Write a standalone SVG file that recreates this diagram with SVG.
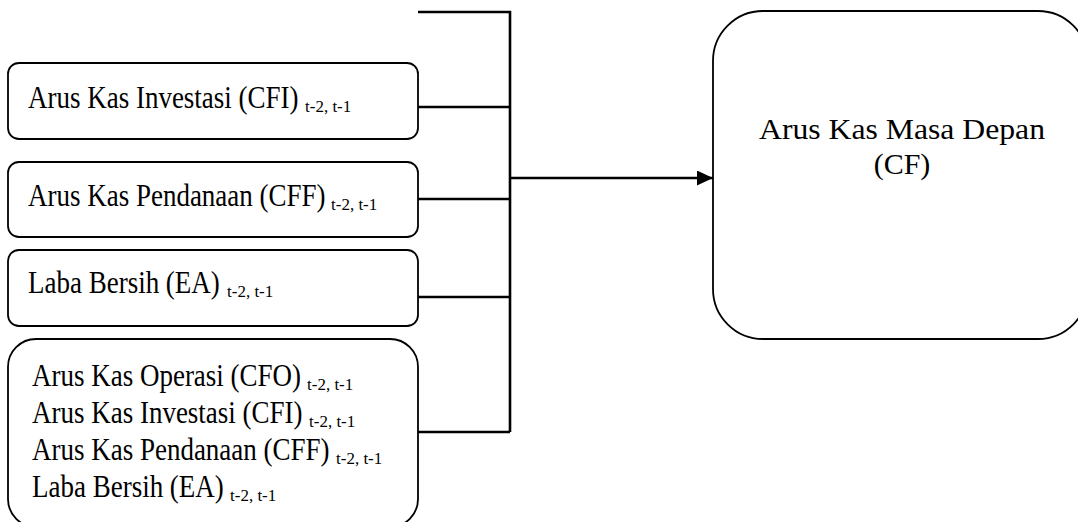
<svg xmlns="http://www.w3.org/2000/svg" width="1078" height="522" viewBox="0 0 1078 522">
<style>
.box{fill:#fff;stroke:#000;stroke-width:1.8}
.t{font-family:"Times New Roman","Liberation Serif",Tinos,"DejaVu Serif",serif;font-size:27px;fill:#000}
.r{font-family:"Times New Roman","Liberation Serif",Tinos,"DejaVu Serif",serif;font-size:30px;fill:#000}
.s{font-family:"Times New Roman","Liberation Serif",Tinos,"DejaVu Serif",serif;font-size:17px;fill:#000}
.c{fill:none;stroke:#000;stroke-width:2.6}
</style>
<defs>
<marker id="ah" markerWidth="16" markerHeight="15" refX="16" refY="7.5" orient="auto" markerUnits="userSpaceOnUse">
<path d="M0,0 L16,7.5 L0,15 Z" fill="#000"/>
</marker>
</defs>
<rect width="1078" height="522" fill="#fff"/>
<g id="connectors">
<path class="c" d="M418,12 H510 V432"/>
<path class="c" d="M418,107 H510"/>
<path class="c" d="M418,199 H510"/>
<path class="c" d="M418,297 H510"/>
<path class="c" d="M418,432 H510"/>
<path class="c" d="M510,178 H713" marker-end="url(#ah)"/>
</g>
<g id="node-cfi">
<rect class="box" x="8" y="63" width="410" height="76" rx="11"/>
<text class="t" transform="translate(28,108) scale(1,1.15)">Arus Kas Investasi (CFI)</text>
<text class="s" x="305" y="112">t-2, t-1</text>
</g>
<g id="node-cff">
<rect class="box" x="8" y="162" width="410" height="75" rx="11"/>
<text class="t" transform="translate(28,206) scale(1,1.15)">Arus Kas Pendanaan (CFF)</text>
<text class="s" x="331" y="210">t-2, t-1</text>
</g>
<g id="node-ea">
<rect class="box" x="8" y="250" width="410" height="76" rx="11"/>
<text class="t" transform="translate(28,293) scale(1,1.15)">Laba Bersih (EA)</text>
<text class="s" x="227" y="297">t-2, t-1</text>
</g>
<g id="node-all">
<rect class="box" x="8" y="339" width="410" height="188" rx="28"/>
<text class="t" transform="translate(32,386) scale(1,1.15)">Arus Kas Operasi (CFO)</text>
<text class="s" x="307" y="390">t-2, t-1</text>
<text class="t" transform="translate(32,423) scale(1,1.15)">Arus Kas Investasi (CFI)</text>
<text class="s" x="309" y="427">t-2, t-1</text>
<text class="t" transform="translate(32,460) scale(1,1.15)">Arus Kas Pendanaan (CFF)</text>
<text class="s" x="336" y="464">t-2, t-1</text>
<text class="t" transform="translate(32,497) scale(1,1.15)">Laba Bersih (EA)</text>
<text class="s" x="230" y="501">t-2, t-1</text>
</g>
<g id="node-cf">
<rect class="box" x="713" y="11" width="375" height="328" rx="50"/>
<text class="r" x="759" y="139" textLength="286" lengthAdjust="spacingAndGlyphs">Arus Kas Masa Depan</text>
<text class="r" x="902" y="174" text-anchor="middle">(CF)</text>
</g>
</svg>
